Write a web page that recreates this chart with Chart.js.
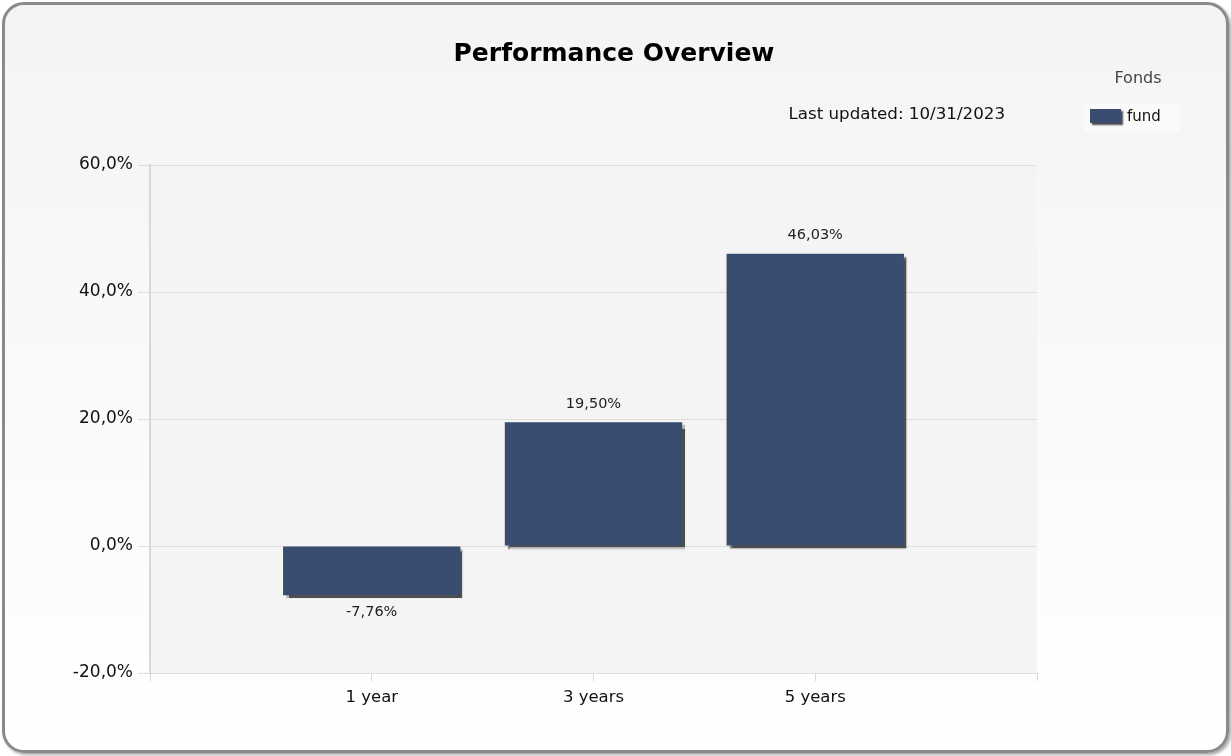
<!DOCTYPE html>
<html>
<head>
<meta charset="utf-8">
<script src="https://cdn.jsdelivr.net/npm/chart.js@4.4.0/dist/chart.umd.min.js"></script>
<style>
  html, body { margin: 0; padding: 0; background: #fff; }
  #frame {
    position: absolute; left: 2px; top: 2px; width: 1221px; height: 745px;
    border: 3px solid #8a8a8a; border-radius: 22px;
    background: linear-gradient(#f4f4f4, #ffffff);
    box-shadow: 2px 2px 3px rgba(0,0,0,0.35);
  }
  #wrap { position: absolute; left: 0; top: 0; width: 1231px; height: 756px; }
</style>
</head>
<body>
<div id="frame"></div>
<div id="wrap"><canvas id="perfChart" width="1231" height="756"></canvas></div>
<script>
const categories = ['1 year', '3 years', '5 years']
const fundValues = [-7.76, 19.50, 46.03]
const yTicks = [-20, 0, 20, 40, 60]
const seriesName = 'fund'
const legendTitle = 'Fonds'
const chartTitle = 'Performance Overview'
const updatedText = 'Last updated: 10/31/2023'

const BAR = '#384d6f'
const FONT = '"DejaVu Sans", Tahoma, sans-serif'

const pct = (v, d) => v.toFixed(d).replace('.', ',') + '%'

// blank slots either side so bars sit on the inner tick marks
const labels = [''].concat(categories, [''])
const data = [null].concat(fundValues, [null])

const plotBg = {
  id: 'plotBg',
  beforeDraw(chart) {
    const {ctx, chartArea: a} = chart
    ctx.save()
    ctx.fillStyle = '#f4f4f4'
    ctx.fillRect(a.left, a.top, a.right - a.left, a.bottom - a.top)
    ctx.restore()
  }
}

const barShadow = {
  id: 'barShadow',
  beforeDatasetsDraw(chart) {
    const ctx = chart.ctx
    ctx.save()
    ctx.shadowColor = 'rgba(60,60,60,0.9)'
    ctx.shadowOffsetX = 3
    ctx.shadowOffsetY = 3
    ctx.shadowBlur = 1.5
  },
  afterDatasetsDraw(chart) {
    chart.ctx.restore()
  }
}

const extras = {
  id: 'extras',
  afterDraw(chart) {
    const ctx = chart.ctx
    ctx.save()
    // value labels
    ctx.font = '14.5px ' + FONT
    ctx.fillStyle = '#222'
    ctx.textAlign = 'center'
    ctx.textBaseline = 'middle'
    chart.getDatasetMeta(0).data.forEach((bar, i) => {
      const v = data[i]
      if (v == null) return
      const y = v >= 0 ? bar.y - 18 : bar.y + 17
      ctx.fillText(pct(v, 2), bar.x, y)
    })
    // title
    ctx.font = 'bold 25px ' + FONT
    ctx.fillStyle = '#000'
    ctx.fillText(chartTitle, 614, 54)
    // updated
    ctx.font = '16.7px ' + FONT
    ctx.fillStyle = '#111'
    ctx.textAlign = 'right'
    ctx.fillText(updatedText, 1005, 115)
    // legend
    ctx.textAlign = 'center'
    ctx.fillStyle = '#444'
    ctx.font = '16px ' + FONT
    ctx.fillText(legendTitle, 1138, 79)
    ctx.fillStyle = 'rgba(255,255,255,0.45)'
    ctx.fillRect(1084, 104, 96, 28)
    ctx.save()
    ctx.shadowColor = 'rgba(60,60,60,0.9)'
    ctx.shadowOffsetX = 2
    ctx.shadowOffsetY = 2
    ctx.shadowBlur = 1.5
    ctx.fillStyle = BAR
    ctx.fillRect(1090, 109, 31, 14)
    ctx.restore()
    ctx.textAlign = 'left'
    ctx.fillStyle = '#111'
    ctx.font = '15px ' + FONT
    ctx.fillText(seriesName, 1127, 117)
    ctx.restore()
  }
}

new Chart(document.getElementById('perfChart'), {
  type: 'bar',
  data: {
    labels: labels,
    datasets: [{
      label: seriesName,
      data: data,
      backgroundColor: BAR,
      borderWidth: 0,
      barPercentage: 1,
      categoryPercentage: 0.8
    }]
  },
  options: {
    responsive: false,
    animation: false,
    events: [],
    layout: { padding: { top: 165, right: 194, bottom: 0, left: 0 } },
    plugins: {
      legend: { display: false },
      title: { display: false },
      tooltip: { enabled: false }
    },
    scales: {
      x: {
        offset: false,
        afterFit(s) { s.height = 83 },
        grid: { offset: false, drawOnChartArea: false, drawTicks: true, tickLength: 8, color: '#d8d8d8' },
        border: { display: false },
        ticks: { color: '#111', font: { family: FONT, size: 16.5 }, padding: 7, maxRotation: 0, autoSkip: false }
      },
      y: {
        min: yTicks[0],
        max: yTicks[yTicks.length - 1],
        afterFit(s) { s.width = 150 },
        afterBuildTicks(s) { s.ticks = yTicks.map(v => ({value: v})) },
        grid: { color: '#dddddd', tickLength: 12, lineWidth: 1 },
        border: { display: true, color: '#d8d8d8', width: 2 },
        ticks: { color: '#111', font: { family: FONT, size: 17 }, padding: 5, callback: v => pct(v, 1) }
      }
    }
  },
  plugins: [plotBg, barShadow, extras]
})
</script>
</body>
</html>
